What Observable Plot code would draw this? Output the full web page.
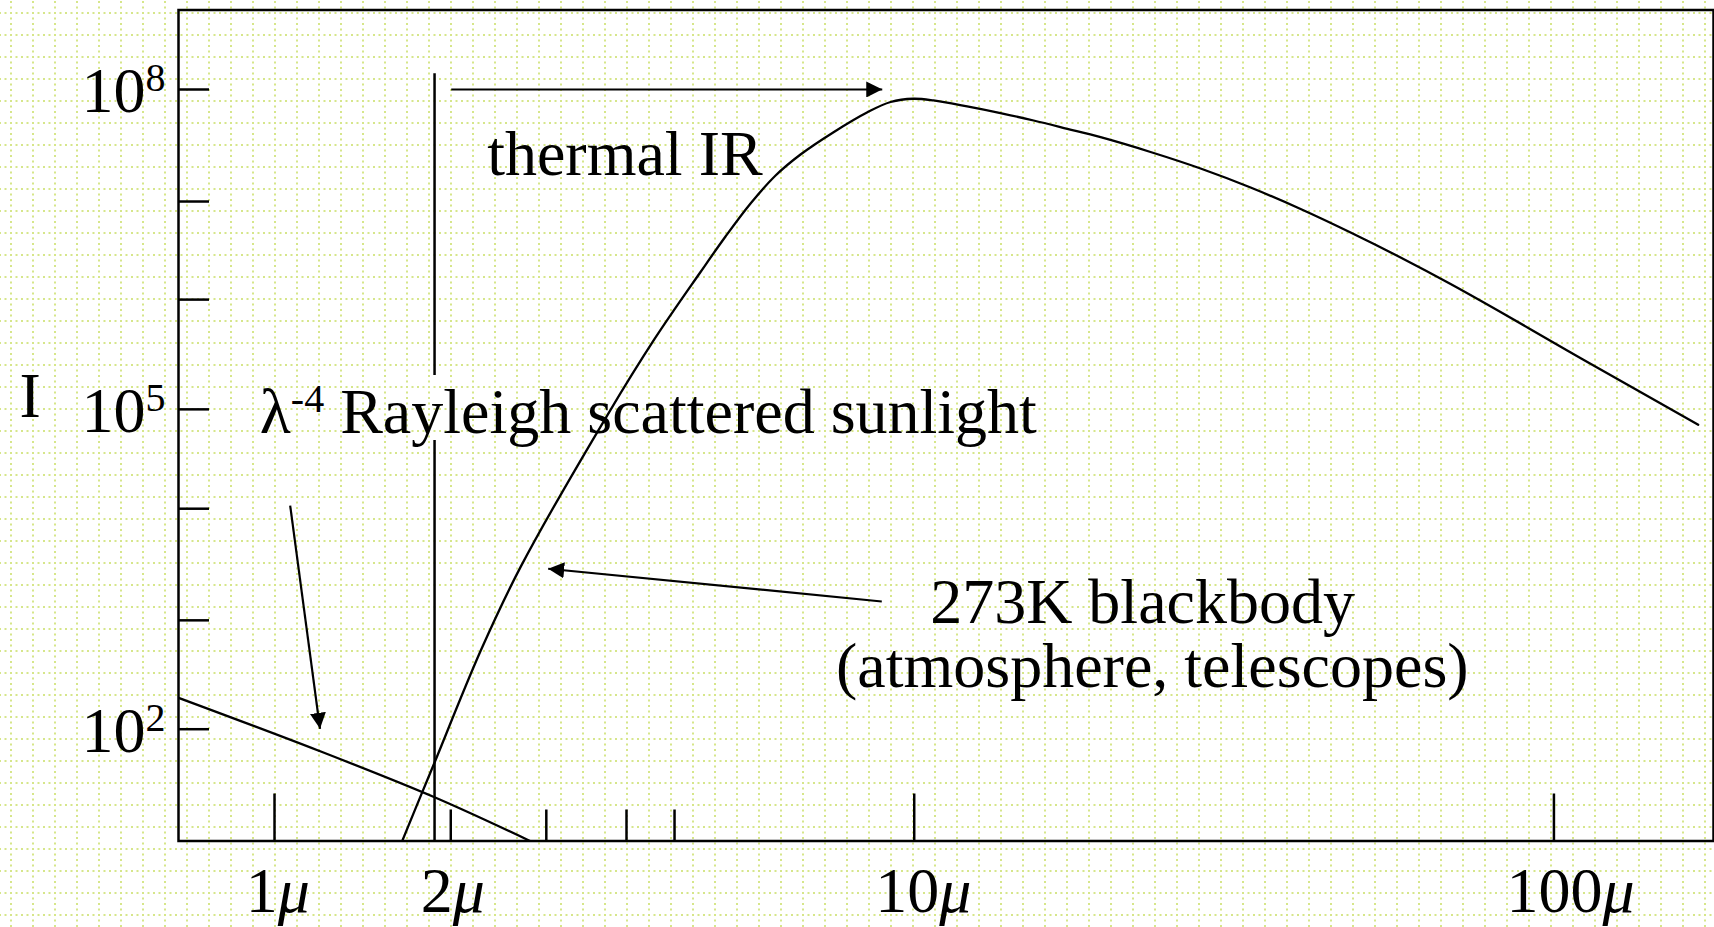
<!DOCTYPE html>
<html>
<head>
<meta charset="utf-8">
<script src="https://cdn.jsdelivr.net/npm/d3@7"></script>
<script src="https://cdn.jsdelivr.net/npm/@observablehq/plot@0.6"></script>
<style>
html, body { margin: 0; padding: 0; background: #fff; }
body {
  width: 1714px; height: 927px; overflow: hidden;
  background-image: url("data:image/svg+xml,%3Csvg xmlns='http://www.w3.org/2000/svg' width='22' height='22'%3E%3Cpath d='M0 1H22M1 0V22' stroke='%23d6e68a' stroke-width='2' stroke-dasharray='2 3.5' fill='none'/%3E%3C/svg%3E");
  background-position: 10px 12px;
}
#chart svg { display: block; }
</style>
</head>
<body>
<div id="chart"></div>
<script>
// ---------- data ----------
const xDomain = [0.7078, 177.6];        // wavelength, microns
const yDomain = [8.944, 5.567e8];       // intensity

// 273K blackbody curve
const bbWave = [1.583, 1.702, 1.779, 2.101, 2.424, 3.311, 3.93, 4.634, 5.070, 5.548, 6.071, 6.641, 7.48, 8.45, 9.183, 9.97, 10.72, 12.1, 13.64, 15.37, 17.35, 19.56, 23.41, 28.03, 33.56, 40.18, 48.10, 57.58, 68.94, 82.51, 104.9, 118.3, 168.1];
const bbInt  = [8.9, 25.7, 48.7, 547, 3311, 8.75e4, 4.6e5, 1.943e6, 4.181e6, 8.528e6, 1.561e7, 2.457e7, 3.98e7, 6.12e7, 7.634e7, 8.19e7, 7.89e7, 6.93e7, 6.0e7, 5.12e7, 4.28e7, 3.57e7, 2.594e7, 1.816e7, 1.204e7, 7.574e6, 4.558e6, 2.657e6, 1.499e6, 8.189e5, 3.56e5, 2.37e5, 7.17e4];

// lambda^-4 Rayleigh scattered sunlight
const rayWave = [0.708, 1.17, 1.779, 2.513];
const rayInt  = [197, 63.2, 23.0, 8.91];

// axis ticks
const yMajorTicks = [1e2, 1e5, 1e8];
const yMajorLabels = ["10^2", "10^5", "10^8"];
const yMinorTicks = [1.05e3, 1.17e4, 1.07e6, 8.9e6];
const xMajorTicks = [1, 10, 100];
const xMinorTicks = [1.886, 2.66, 3.55, 4.22];
const xLabelValues = [0.98, 1.84, 10, 102.8];
const xLabels = ["1μ", "2μ", "10μ", "100μ"];

// 2 micron boundary line (two pieces, broken by the label)
const boundaryX  = [1.779, 1.779];
const boundaryY1 = [8.944, 2.08e5];
const boundaryY2 = [5.1e4, 1.403e8];

// annotation arrows
const arrowX1 = [1.889, 1.058, 8.898];
const arrowY1 = [1e8, 1.253e4, 1578];
const arrowX2 = [8.913, 1.178, 2.678];
const arrowY2 = [1e8, 100.9, 3199];

// annotation texts (left/baseline anchored)
const noteText = ["thermal IR", "λ^-4 Rayleigh scattered sunlight", "273K blackbody", "(atmosphere, telescopes)"];
const noteX = [2.150, 0.9485, 10.59, 7.546];
const noteY = [1.561e7, 5.98e4, 987, 247.8];
const yTitle = "I";
const yTitleX = 0.4148, yTitleY = 8.48e4;

// ---------- build ----------
const font = "'Liberation Serif', 'Times New Roman', serif";
const FS = 64;
const W = 1714, H = 927, mL = 178, mR = 1, mT = 9.5, mB = 86.5;
const xs = d3.scaleLog(xDomain, [mL, W - mR]);
const ys = d3.scaleLog(yDomain, [H - mB, mT]);
const yTickEnd = xs.invert(mL + 31);
const xTickLong = ys.invert(H - mB - 47);
const xTickShort = ys.invert(H - mB - 31);

const bb = bbWave.map((w, i) => ({w, v: bbInt[i]}));
const ray = rayWave.map((w, i) => ({w, v: rayInt[i]}));
const bounds = boundaryX.map((x, i) => ({x, y1: boundaryY1[i], y2: boundaryY2[i]}));
const arrows = arrowX1.map((x1, i) => ({x1, y1: arrowY1[i], x2: arrowX2[i], y2: arrowY2[i]}));
const notes = noteText.map((t, i) => ({t, x: noteX[i], y: noteY[i]}));

const chart = Plot.plot({
  width: W, height: H,
  marginLeft: mL, marginRight: mR, marginTop: mT, marginBottom: mB,
  x: {type: "log", domain: xDomain, axis: null},
  y: {type: "log", domain: yDomain, axis: null},
  style: {background: "transparent", fontFamily: font, color: "black"},
  marks: [
    Plot.ruleY(yMajorTicks.concat(yMinorTicks), {y: d => d, x1: xDomain[0], x2: yTickEnd, stroke: "black", strokeWidth: 2.5}),
    Plot.ruleX(xMajorTicks, {x: d => d, y1: yDomain[0], y2: xTickLong, stroke: "black", strokeWidth: 2.5}),
    Plot.ruleX(xMinorTicks, {x: d => d, y1: yDomain[0], y2: xTickShort, stroke: "black", strokeWidth: 2.5}),
    Plot.ruleX(bounds, {x: "x", y1: "y1", y2: "y2", stroke: "black", strokeWidth: 2.5}),
    Plot.line(ray, {x: "w", y: "v", stroke: "black", strokeWidth: 2.3, curve: "catmull-rom", clip: true}),
    Plot.line(bb, {x: "w", y: "v", stroke: "black", strokeWidth: 2.3, curve: "catmull-rom", clip: true}),
    Plot.link(arrows, {x1: "x1", y1: "y1", x2: "x2", y2: "y2", stroke: "black", strokeWidth: 2.2}),
    Plot.text(notes, {x: "x", y: "y", text: "t", textAnchor: "start", lineAnchor: "bottom", fontSize: FS, fontFamily: font}),
    Plot.text([yTitle], {x: () => yTitleX, y: () => yTitleY, text: d => d, textAnchor: "middle", lineAnchor: "bottom", fontSize: FS, fontFamily: font}),
    Plot.text(yMajorTicks, {x: () => xDomain[0], y: d => d, text: (d, i) => yMajorLabels[i], textAnchor: "end", lineAnchor: "bottom", dx: -13, dy: 22.7, fontSize: FS, fontFamily: font}),
    Plot.text(xLabelValues, {x: d => d, y: () => yDomain[0], text: (d, i) => xLabels[i], textAnchor: "middle", lineAnchor: "bottom", dx: 9, dy: 71.2, fontSize: FS, fontFamily: font}),
    Plot.frame({stroke: "black", strokeWidth: 2.5})
  ]
});

// arrowheads (filled triangles)
const NS = "http://www.w3.org/2000/svg";
const defs = document.createElementNS(NS, "defs");
defs.innerHTML = '<marker id="ahead" viewBox="0 -8 16 16" refX="16" refY="0" markerWidth="16" markerHeight="16" markerUnits="userSpaceOnUse" orient="auto"><path d="M0,-8L16,0L0,8Z" fill="black"/></marker>';
chart.insertBefore(defs, chart.firstChild);
chart.querySelectorAll('g[aria-label="link"] path').forEach(p => p.setAttribute("marker-end", "url(#ahead)"));

// superscripts and italic mu
chart.querySelectorAll("text").forEach(t => {
  const s = t.textContent;
  if (s.includes("^")) {
    const m = s.match(/^(.*?)\^(\S+)(.*)$/);
    t.textContent = "";
    const a = document.createElementNS(NS, "tspan"); a.textContent = m[1]; t.appendChild(a);
    const b = document.createElementNS(NS, "tspan"); b.textContent = m[2];
    b.setAttribute("font-size", 40); b.setAttribute("dy", "-21"); t.appendChild(b);
    if (m[3]) { const c = document.createElementNS(NS, "tspan"); c.textContent = m[3]; c.setAttribute("dy", "21"); t.appendChild(c); }
  } else if (s.includes("μ")) {
    t.textContent = "";
    const a = document.createElementNS(NS, "tspan"); a.textContent = s.replace("μ", ""); t.appendChild(a);
    const b = document.createElementNS(NS, "tspan"); b.textContent = "μ"; b.setAttribute("font-style", "italic"); t.appendChild(b);
  }
});

document.getElementById("chart").appendChild(chart);
</script>
</body>
</html>
